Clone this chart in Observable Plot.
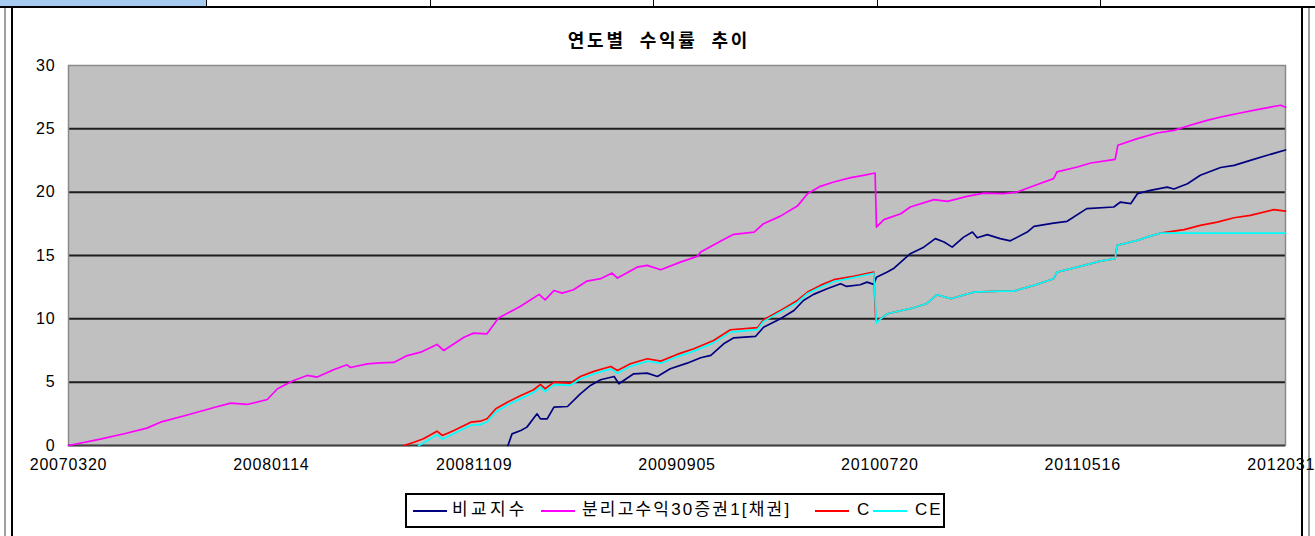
<!DOCTYPE html>
<html>
<head>
<meta charset="utf-8">
<script src="https://cdn.jsdelivr.net/npm/d3@7"></script>
<script src="https://cdn.jsdelivr.net/npm/@observablehq/plot@0.6"></script>
<style>
  html, body { margin: 0; padding: 0; background: #fff; width: 1315px; height: 536px; overflow: hidden; position: relative; }
  .abs { position: absolute; }
  #title { left: 409px; width: 500px; top: 26px; text-align: center; font-family: "Liberation Sans", "Noto Sans CJK KR", sans-serif; font-weight: bold; font-size: 18px; letter-spacing: 2.8px; word-spacing: 6px; color: #000; }
  #legend { left: 405px; top: 493px; width: 536px; height: 31px; border: 2px solid #000; background: #fff; font-family: "Liberation Sans", "Noto Sans CJK KR", sans-serif; font-size: 17px; color: #000; box-sizing: content-box; }
  .sw { position: absolute; top: 15px; width: 34px; height: 2px; }
  .lt { position: absolute; top: 4px; line-height: 22px; white-space: nowrap; }
  #chart { left: 0; top: 0; }
</style>
</head>
<body>
<div class="abs" style="left:0;top:0;width:206px;height:6px;background:#A6CAF0;"></div>
<div class="abs" style="left:0;top:6px;width:1315px;height:2px;background:#000;"></div>
<div class="abs" style="left:206px;top:0;width:1px;height:6px;background:#000;"></div>
<div class="abs" style="left:430px;top:0;width:1px;height:6px;background:#000;"></div>
<div class="abs" style="left:653px;top:0;width:1px;height:6px;background:#000;"></div>
<div class="abs" style="left:877px;top:0;width:1px;height:6px;background:#000;"></div>
<div class="abs" style="left:1100px;top:0;width:1px;height:6px;background:#000;"></div>
<div class="abs" style="left:4px;top:8px;width:2px;height:528px;background:#A0A0A0;"></div>
<div class="abs" style="left:11px;top:8px;width:2px;height:528px;background:#000;"></div>
<div class="abs" style="left:1301px;top:8px;width:2px;height:528px;background:#000;"></div>
<div class="abs" style="left:1308px;top:8px;width:2px;height:528px;background:#A0A0A0;"></div>
<div id="chart" class="abs"></div>
<div id="title" class="abs">연도별 수익률 추이</div>
<div id="legend" class="abs"></div>
<script>
// x axis: category index (one category per day in the source sheet)
const tickIndex = [0, 300, 600, 900, 1200, 1500, 1800];
const tickLabels = ["20070320", "20080114", "20081109", "20090905", "20100720", "20110516", "20120311"];
const yTicks = [0, 5, 10, 15, 20, 25, 30];

const seriesNames = ["비교지수", "분리고수익30증권1[채권]", "C", "CE"];
const seriesColors = ["#000080", "#FF00FF", "#FF0000", "#00FFFF"];

// 비교지수 (navy)
const benchIdx = [650,656,669,678,693,698,708,718,738,757,772,787,807,814,836,856,871,890,915,935,950,969,984,1016,1028,1053,1073,1087,1102,1122,1142,1151,1171,1181,1191,1195,1211,1221,1231,1245,1265,1282,1295,1307,1324,1337,1344,1359,1378,1393,1418,1428,1457,1477,1506,1546,1556,1571,1581,1600,1625,1635,1655,1674,1704,1724,1748,1773,1800];
const benchVal = [0,0.92,1.18,1.45,2.5,2.1,2.1,3.03,3.08,4.08,4.74,5.19,5.45,4.87,5.66,5.71,5.45,6.06,6.5,6.93,7.11,8.03,8.5,8.61,9.34,10.0,10.66,11.45,11.93,12.38,12.77,12.56,12.69,12.9,12.72,13.29,13.69,14.0,14.48,15.14,15.66,16.33,16.06,15.66,16.45,16.85,16.4,16.65,16.33,16.16,16.85,17.3,17.56,17.7,18.7,18.83,19.22,19.09,19.88,20.14,20.4,20.25,20.67,21.33,21.95,22.12,22.51,22.91,23.33];

// 분리고수익30증권1[채권] (magenta)
const fundIdx = [0,47,84,116,136,173,214,240,264,294,309,333,353,368,392,412,417,442,461,481,501,521,545,555,585,599,619,636,668,696,705,718,730,747,767,787,804,812,841,856,876,905,930,935,969,984,1014,1028,1053,1078,1093,1112,1132,1157,1176,1193,1195,1206,1231,1245,1280,1300,1329,1354,1383,1403,1433,1457,1462,1492,1512,1548,1552,1581,1610,1635,1659,1684,1709,1733,1758,1793,1800];
const fundVal = [0,0.5,0.95,1.37,1.84,2.37,2.98,3.34,3.24,3.63,4.48,5.13,5.53,5.4,5.98,6.37,6.16,6.45,6.53,6.56,7.1,7.37,7.98,7.5,8.55,8.87,8.82,10.06,10.98,11.93,11.5,12.24,12.03,12.3,12.98,13.17,13.61,13.22,14.08,14.22,13.88,14.48,14.93,15.27,16.27,16.67,16.85,17.51,18.11,18.9,19.88,20.46,20.8,21.15,21.33,21.51,17.24,17.83,18.3,18.83,19.41,19.27,19.67,19.93,19.88,20.01,20.6,21.07,21.6,21.99,22.3,22.59,23.7,24.23,24.67,24.88,25.28,25.67,25.99,26.25,26.52,26.86,26.7];

// C (red)
const cIdx = [496,511,525,545,553,570,595,609,619,632,649,669,688,698,705,718,742,757,777,802,812,831,856,876,900,925,954,979,1019,1028,1053,1078,1093,1112,1132,1161,1191,1194,1201,1211,1245,1269,1284,1305,1339,1378,1398,1428,1457,1462,1492,1526,1548,1551,1581,1595,1615,1650,1674,1699,1724,1748,1783,1800];
const cVal = [0,0.26,0.53,1.13,0.79,1.18,1.84,1.92,2.11,2.9,3.42,3.95,4.4,4.82,4.48,5.0,4.92,5.45,5.85,6.24,5.92,6.45,6.85,6.66,7.19,7.64,8.29,9.14,9.3,9.93,10.66,11.45,12.11,12.64,13.09,13.35,13.69,9.9,10.0,10.4,10.8,11.19,11.9,11.59,12.11,12.19,12.19,12.64,13.17,13.69,14.08,14.56,14.75,15.8,16.19,16.45,16.77,17.04,17.38,17.64,17.98,18.17,18.62,18.5];

// CE (cyan)
const ceIdx = [518,525,545,553,570,595,609,619,632,649,669,688,698,705,718,742,757,777,802,812,831,856,876,900,925,954,979,1019,1028,1053,1078,1093,1112,1132,1161,1191,1195,1201,1211,1245,1269,1284,1305,1339,1378,1398,1428,1457,1462,1492,1526,1548,1551,1581,1595,1615,1700,1800];
const ceVal = [0,0.2,0.85,0.5,0.95,1.6,1.65,1.85,2.65,3.2,3.7,4.2,4.6,4.25,4.8,4.75,5.25,5.65,6.05,5.7,6.25,6.65,6.5,7.0,7.45,8.1,8.95,9.15,9.8,10.55,11.3,12.0,12.5,12.95,13.25,13.6,9.66,10.0,10.4,10.8,11.19,11.9,11.59,12.11,12.19,12.19,12.64,13.17,13.69,14.08,14.56,14.75,15.8,16.19,16.45,16.77,16.77,16.77];

const rows = (xs, ys) => xs.map((x, i) => ({ x, y: ys[i] }));
const seriesData = [rows(benchIdx, benchVal), rows(fundIdx, fundVal), rows(cIdx, cVal), rows(ceIdx, ceVal)];

const fmt = d => tickLabels[tickIndex.indexOf(d)];

const chart = Plot.plot({
  width: 1315,
  height: 485,
  marginLeft: 68,
  marginRight: 30,
  marginTop: 65,
  marginBottom: 40,
  x: { domain: [0, 1800] },
  y: { domain: [0, 30] },
  style: { fontFamily: '"Liberation Sans", "Noto Sans CJK KR", sans-serif', fontSize: "16px", letterSpacing: "0.8px", color: "#000", background: "transparent" },
  marks: [
    Plot.frame({ fill: "#C0C0C0", stroke: "none" }),
    Plot.ruleY([5, 10, 15, 20, 25], { stroke: "#1e1e1e", strokeWidth: 2 }),
    Plot.frame({ stroke: "#8a8a8a", strokeWidth: 1.5 }),
    Plot.ruleY([0], { stroke: "#404040", strokeWidth: 2 }),
    Plot.axisX({ ticks: tickIndex, tickFormat: fmt, tickSize: 0, tickPadding: 13, label: null, fontSize: 16 }),
    Plot.axisY({ ticks: yTicks, tickSize: 0, tickPadding: 13, label: null, fontSize: 16 }),
    ...seriesData.map((d, i) => Plot.line(d, { x: "x", y: "y", stroke: seriesColors[i], strokeWidth: 1.7 }))
  ]
});
document.getElementById("chart").appendChild(chart);

// legend entries laid out like the reference (left offsets inside the box)
const legend = document.getElementById("legend");
const swatchLeft = [6, 134, 408, 466];
const textLeft = [45, 175, 450, 508];
const textSpacing = ["3.3px", "2.2px", "2px", "2px"];
seriesNames.forEach((name, i) => {
  const sw = document.createElement("span");
  sw.className = "sw";
  sw.style.left = swatchLeft[i] + "px";
  sw.style.background = seriesColors[i];
  legend.appendChild(sw);
  const t = document.createElement("span");
  t.className = "lt";
  t.style.left = textLeft[i] + "px";
  t.style.letterSpacing = textSpacing[i];
  t.textContent = name;
  legend.appendChild(t);
});
</script>
</body>
</html>
